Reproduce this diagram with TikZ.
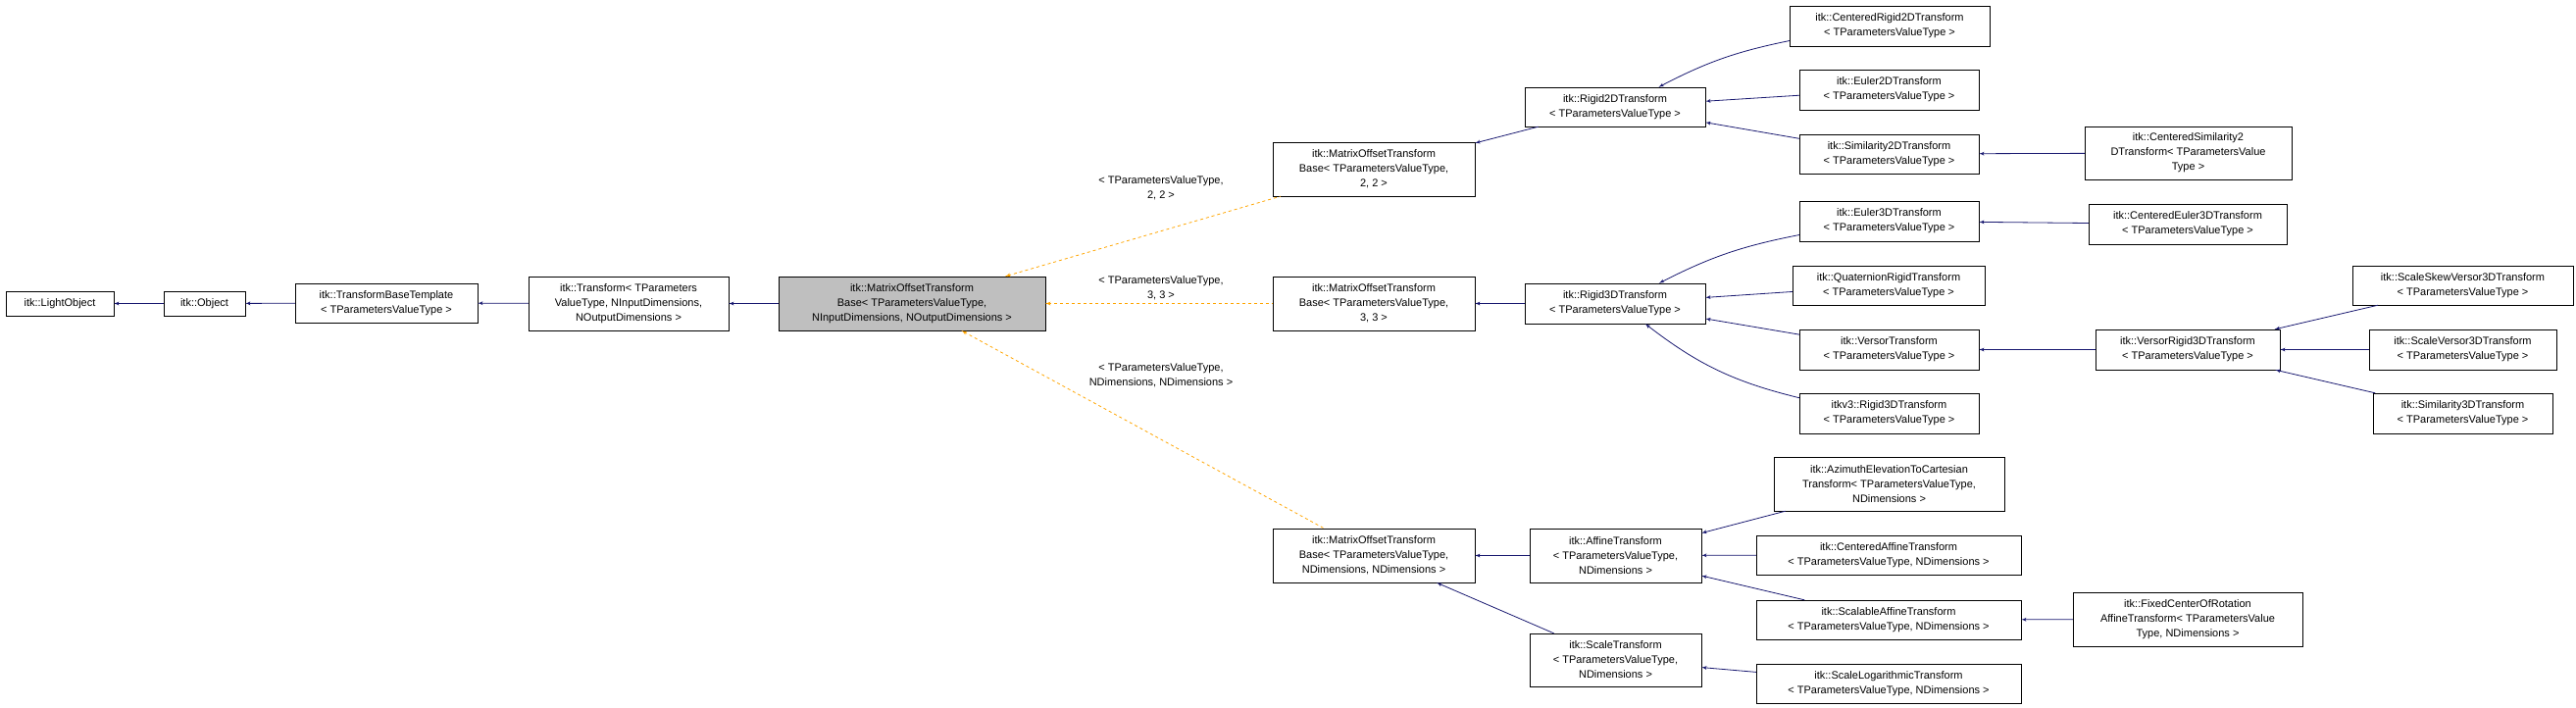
\documentclass[tikz,border=0pt]{standalone}
\usepackage{fontspec}
\setmainfont{Liberation Sans}
\usetikzlibrary{arrows}
\definecolor{navy}{HTML}{191970}
\definecolor{dep}{HTML}{FFA500}
\tikzset{
    cls/.style={draw,inner sep=1pt,align=center,font=\fontsize{11}{15}\selectfont},
    inherit/.style={<-,> = latex',navy,thick},
    tmpl/.style={<-,> = latex',dep,thick,dashed},
    lbl/.style={align=center,font=\fontsize{11}{15}\selectfont}
}

\begin{document}
\begin{tikzpicture}[x=1pt,y=-1pt]
\useasboundingbox (0,0) rectangle (2627,721);
\node[cls,minimum width=110,minimum height=25] (lo) at (61,309.5) {itk::LightObject};
\node[cls,minimum width=83,minimum height=25] (obj) at (208.5,309.5) {itk::Object};
\node[cls,minimum width=186,minimum height=40] (tbt) at (394,309) {itk::TransformBaseTemplate\\< TParametersValueType >};
\node[cls,minimum width=204,minimum height=55] (tr) at (641,309.5) {itk::Transform< TParameters\\ValueType, NInputDimensions,\\NOutputDimensions >};
\node[cls,fill=black!25,minimum width=272,minimum height=55] (motb) at (930,309.5) {itk::MatrixOffsetTransform\\Base< TParametersValueType,\\NInputDimensions, NOutputDimensions >};
\node[cls,minimum width=206,minimum height=55] (m2) at (1401,172.5) {itk::MatrixOffsetTransform\\Base< TParametersValueType,\\2, 2 >};
\node[cls,minimum width=206,minimum height=55] (m3) at (1401,309.5) {itk::MatrixOffsetTransform\\Base< TParametersValueType,\\3, 3 >};
\node[cls,minimum width=206,minimum height=55] (mn) at (1401,566.5) {itk::MatrixOffsetTransform\\Base< TParametersValueType,\\NDimensions, NDimensions >};
\node[cls,minimum width=184,minimum height=40] (r2) at (1647,109) {itk::Rigid2DTransform\\< TParametersValueType >};
\node[cls,minimum width=184,minimum height=41] (r3) at (1647,309.5) {itk::Rigid3DTransform\\< TParametersValueType >};
\node[cls,minimum width=175,minimum height=55] (aff) at (1647.5,566.5) {itk::AffineTransform\\< TParametersValueType,\\NDimensions >};
\node[cls,minimum width=175,minimum height=54] (sc) at (1647.5,673) {itk::ScaleTransform\\< TParametersValueType,\\NDimensions >};
\node[cls,minimum width=204,minimum height=41] (cr2) at (1927,26.5) {itk::CenteredRigid2DTransform\\< TParametersValueType >};
\node[cls,minimum width=183,minimum height=41] (e2) at (1926.5,91.5) {itk::Euler2DTransform\\< TParametersValueType >};
\node[cls,minimum width=183,minimum height=40] (s2) at (1926.5,157) {itk::Similarity2DTransform\\< TParametersValueType >};
\node[cls,minimum width=211,minimum height=54] (cs2) at (2231.5,156) {itk::CenteredSimilarity2\\DTransform< TParametersValue\\Type >};
\node[cls,minimum width=183,minimum height=41] (e3) at (1926.5,225.5) {itk::Euler3DTransform\\< TParametersValueType >};
\node[cls,minimum width=202,minimum height=41] (ce3) at (2231,228.5) {itk::CenteredEuler3DTransform\\< TParametersValueType >};
\node[cls,minimum width=196,minimum height=40] (q) at (1926,291) {itk::QuaternionRigidTransform\\< TParametersValueType >};
\node[cls,minimum width=183,minimum height=41] (v) at (1926.5,356.5) {itk::VersorTransform\\< TParametersValueType >};
\node[cls,minimum width=183,minimum height=41] (v3) at (1926.5,421.5) {itkv3::Rigid3DTransform\\< TParametersValueType >};
\node[cls,minimum width=188,minimum height=41] (vr) at (2231,356.5) {itk::VersorRigid3DTransform\\< TParametersValueType >};
\node[cls,minimum width=225,minimum height=40] (ssk) at (2511.5,291) {itk::ScaleSkewVersor3DTransform\\< TParametersValueType >};
\node[cls,minimum width=191,minimum height=41] (sv) at (2511.5,356.5) {itk::ScaleVersor3DTransform\\< TParametersValueType >};
\node[cls,minimum width=183,minimum height=41] (s3) at (2511.5,421.5) {itk::Similarity3DTransform\\< TParametersValueType >};
\node[cls,minimum width=235,minimum height=55] (az) at (1926.5,493.5) {itk::AzimuthElevationToCartesian\\Transform< TParametersValueType,\\NDimensions >};
\node[cls,minimum width=270,minimum height=40] (ca) at (1926,566) {itk::CenteredAffineTransform\\< TParametersValueType, NDimensions >};
\node[cls,minimum width=270,minimum height=40] (sa) at (1926,632) {itk::ScalableAffineTransform\\< TParametersValueType, NDimensions >};
\node[cls,minimum width=234,minimum height=55] (fc) at (2231,631.5) {itk::FixedCenterOfRotation\\AffineTransform< TParametersValue\\Type, NDimensions >};
\node[cls,minimum width=270,minimum height=40] (sl) at (1926,697) {itk::ScaleLogarithmicTransform\\< TParametersValueType, NDimensions >};

\draw[inherit] (lo) -- (obj);
\draw[inherit] (obj) -- (tbt);
\draw[inherit] (tbt) -- (tr);
\draw[inherit] (tr) -- (motb);
\draw[inherit] (m2) -- (r2);
\draw[inherit] (m3) -- (r3);
\draw[inherit] (mn) -- (aff);
\draw[inherit] (mn) -- (sc);
\draw[inherit] (r2) to[bend left=8] (cr2);
\draw[inherit] (r2) -- (e2);
\draw[inherit] (r2) -- (s2);
\draw[inherit] (s2) -- (cs2);
\draw[inherit] (r3) to[bend left=8] (e3);
\draw[inherit] (e3) -- (ce3);
\draw[inherit] (r3) -- (q);
\draw[inherit] (r3) -- (v);
\draw[inherit] (r3) to[bend right=12] (v3);
\draw[inherit] (v) -- (vr);
\draw[inherit] (vr) -- (ssk);
\draw[inherit] (vr) -- (sv);
\draw[inherit] (vr) -- (s3);
\draw[inherit] (aff) -- (az);
\draw[inherit] (aff) -- (ca);
\draw[inherit] (aff) -- (sa);
\draw[inherit] (sa) -- (fc);
\draw[inherit] (sc) -- (sl);

\draw[tmpl] (motb) -- (m2);
\draw[tmpl] (motb) -- (m3);
\draw[tmpl] (motb) -- (mn);
\node[lbl] (l2) at (1184,192) {< TParametersValueType,\\2, 2 >};
\node[lbl] (l3) at (1184,294) {< TParametersValueType,\\3, 3 >};
\node[lbl] (ln) at (1184,383) {< TParametersValueType,\\NDimensions, NDimensions >};
\end{tikzpicture}
\end{document}
